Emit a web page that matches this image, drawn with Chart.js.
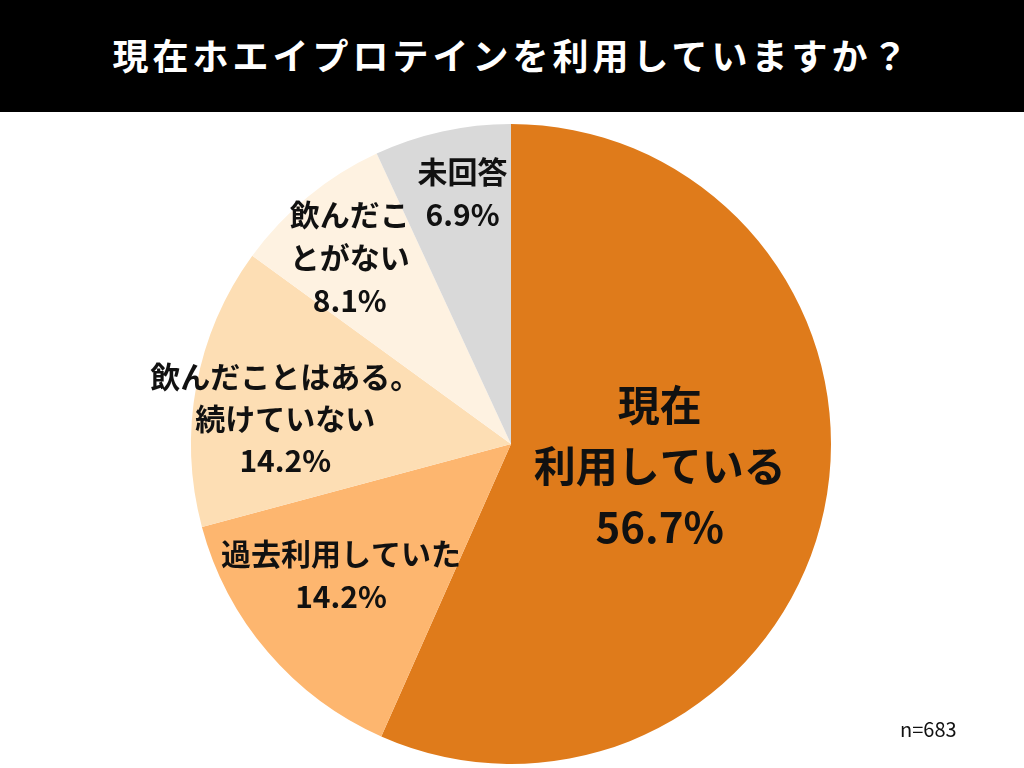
<!DOCTYPE html>
<html lang="ja">
<head>
<meta charset="utf-8">
<script src="https://cdn.jsdelivr.net/npm/chart.js@4"></script>
<style>
  html, body { margin: 0; padding: 0; background: #fff; }
  body { width: 1024px; height: 768px; overflow: hidden; position: relative;
         font-family: "Noto Sans CJK JP", "Noto Sans", sans-serif; }
  #titulo { height: 112px; background: #000; color: #fff; font-weight: bold;
            font-size: 36px; letter-spacing: 4px; line-height: 108px; text-align: center; }
  #grafico-box { position: absolute; top: 112px; left: 0; width: 1024px; height: 656px; }
  #nota { position: absolute; left: 900px; top: 714px; font-size: 20px; color: #111; }
</style>
</head>
<body>
<div id="titulo">現在ホエイプロテインを利用していますか？</div>
<div id="grafico-box"><canvas id="grafico"></canvas></div>
<div id="nota">n=683</div>
<script>
// categorias (sentido horario a partir do topo)
var categorias = ['現在利用している', '過去利用していた', '飲んだことはある。続けていない', '飲んだことがない', '未回答'];
// percentuais
var valores = [56.7, 14.2, 14.2, 8.1, 6.9];
// rotulos quebrados em linhas, como na imagem
var rotulos = [
  ['現在', '利用している', '56.7%'],
  ['過去利用していた', '14.2%'],
  ['飲んだことはある。', '続けていない', '14.2%'],
  ['飲んだこ', 'とがない', '8.1%'],
  ['未回答', '6.9%']
];
var cores = ['#DF7B1B', '#FDB66F', '#FDDEB4', '#FEF2E1', '#D9D9D9'];

// posicao dos rotulos: fracao do raio e ajuste de angulo (graus)
var rotuloRaio = [0.47, 0.67, 0.71, 0.77, 0.80];
var rotuloAng = [-3.5, 3, -4, -1.5, 1.5];
var rotuloFonte = [42, 30, 30, 30, 30];
var rotuloLinha = [61, 43, 42, 43, 43];

// plugin para desenhar os rotulos dentro das fatias
var pluginRotulos = {
  id: 'rotulos',
  afterDatasetsDraw: function(chart) {
    var ctx = chart.ctx;
    var meta = chart.getDatasetMeta(0);
    ctx.save();
    ctx.fillStyle = '#111';
    ctx.textAlign = 'center';
    ctx.textBaseline = 'middle';
    meta.data.forEach(function(arc, i) {
      var p = arc.getProps(['x', 'y', 'startAngle', 'endAngle', 'outerRadius'], true);
      var ang = (p.startAngle + p.endAngle) / 2 + rotuloAng[i] * Math.PI / 180;
      var r = p.outerRadius * rotuloRaio[i];
      var cx = p.x + Math.cos(ang) * r;
      var cy = p.y + Math.sin(ang) * r;
      var linhas = rotulos[i];
      ctx.font = 'bold ' + rotuloFonte[i] + 'px "Noto Sans CJK JP", sans-serif';
      var y0 = cy - (linhas.length - 1) * rotuloLinha[i] / 2;
      linhas.forEach(function(t, k) {
        ctx.fillText(t, cx, y0 + k * rotuloLinha[i]);
      });
    });
    ctx.restore();
  }
};

var ctx = document.querySelector('#grafico').getContext('2d');
var pizza = new Chart(ctx, {
  type: 'pie',
  data: {
    labels: categorias,
    datasets: [{
      data: valores,
      backgroundColor: cores,
      borderWidth: 0
    }]
  },
  options: {
    responsive: true,
    maintainAspectRatio: false,
    animation: false,
    layout: { padding: { top: 12, bottom: 4, left: 0, right: 2 } },
    plugins: {
      legend: { display: false },
      tooltip: { enabled: false }
    }
  },
  plugins: [pluginRotulos]
});
</script>
</body>
</html>
